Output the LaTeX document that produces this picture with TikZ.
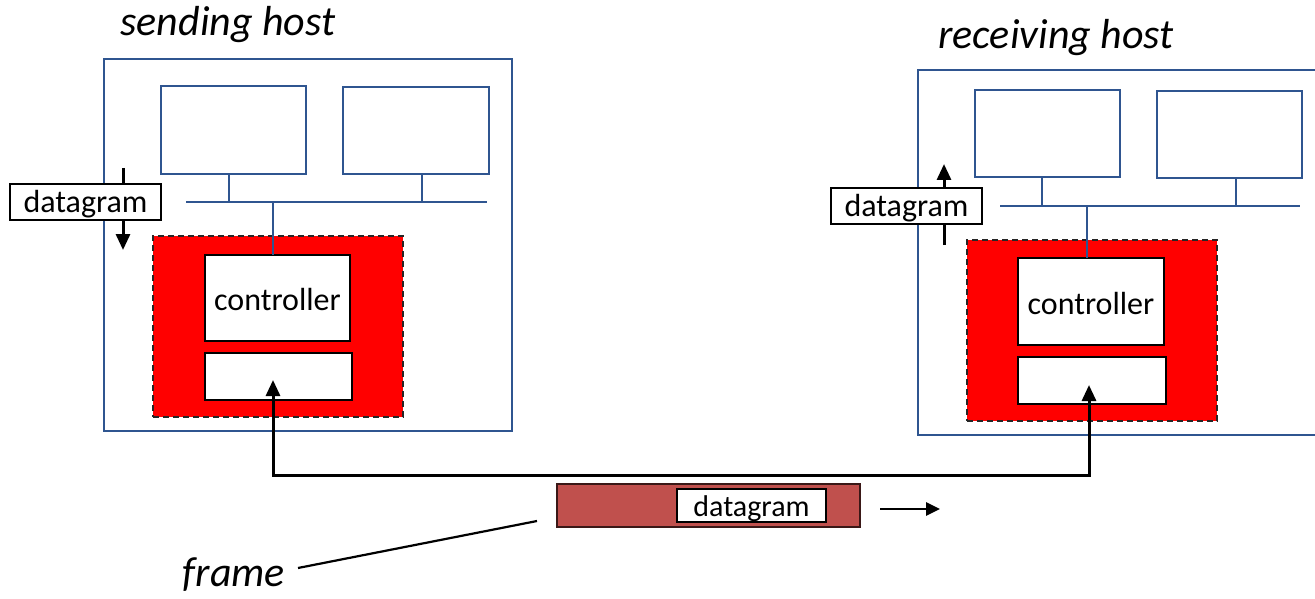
\documentclass[tikz,border=0pt]{standalone}
\usepackage{fontspec}
\setmainfont{Carlito}
\usetikzlibrary{arrows.meta}
\definecolor{hostblue}{HTML}{2F5590}
\definecolor{nicred}{HTML}{FF0000}
\definecolor{framered}{HTML}{C0504D}
\begin{document}
\begin{tikzpicture}[x=1pt,y=-1pt,
  every node/.style={inner sep=0pt,outer sep=0pt,anchor=north west},
  host/.style={draw=hostblue,line width=2pt},
  app/.style={draw=hostblue,line width=2pt},
  bus/.style={draw=hostblue,line width=2pt},
  nic/.style={draw=black!85,line width=2pt,dash pattern=on 6pt off 4pt,fill=nicred},
  part/.style={draw=black,line width=2.6pt,fill=white},
  dgram/.style={draw=black,line width=2.4pt,fill=white},
  txt/.style={anchor=center,font=\fontsize{32}{38}\selectfont},
  title/.style={font=\fontsize{42}{50}\selectfont\itshape,anchor=center},
  flow/.style={draw=black,line width=3pt,-{Triangle[width=14pt,length=16pt]}},
  link/.style={draw=black,line width=3pt,{Triangle[width=14pt,length=16pt]}-{Triangle[width=14pt,length=16pt]}}
]
\useasboundingbox (0,0) rectangle (1315,599);

% ---- sending host ----
\node[title] (sendlbl) at (228,25) {sending host};
\node[host,minimum width=408pt,minimum height=372pt] (hostL) at (104,59) {};
\node[app,minimum width=145pt,minimum height=88pt] (appL1) at (161,86) {};
\node[app,minimum width=146pt,minimum height=87pt] (appL2) at (343,87) {};
\coordinate (busLa) at (186,202);
\coordinate (busLb) at (487,202);
\draw[bus] (busLa) -- (busLb);
\draw[bus] (229,174) -- (229,202);
\draw[bus] (422,174) -- (422,202);
\node[nic,minimum width=250pt,minimum height=181pt] (nicL) at (153,236) {};
\node[part,minimum width=145pt,minimum height=86pt] (ctrlL) at (205,255) {};
\node[txt] at ([yshift=-2pt]ctrlL.center) {controller};
\node[part,minimum width=147pt,minimum height=47pt] (lowL) at (205,353) {};
\coordinate (busLc) at (273,202);
\draw[bus] (busLc) -- (busLc |- ctrlL.north);
\coordinate (downA) at (123,168);
\coordinate (downB) at (123,250);
\draw[flow] (downA) -- (downB);
\node[dgram,minimum width=151pt,minimum height=36pt] (dgL) at (10,184) {};
\node[txt] at ([yshift=-2pt]dgL.center) {datagram};

% ---- receiving host ----
\node[title] (recvlbl) at (1056,38) {receiving host};
\node[host,minimum width=410pt,minimum height=365pt] (hostR) at (918,70) {};
\node[app,minimum width=145pt,minimum height=87pt] (appR1) at (975,90) {};
\node[app,minimum width=145pt,minimum height=87pt] (appR2) at (1157,91) {};
\coordinate (busRa) at (1000,206);
\coordinate (busRb) at (1300,206);
\draw[bus] (busRa) -- (busRb);
\draw[bus] (1042,177) -- (1042,206);
\draw[bus] (1236,178) -- (1236,206);
\node[nic,minimum width=250pt,minimum height=181pt] (nicR) at (967,240) {};
\node[part,minimum width=146pt,minimum height=87pt] (ctrlR) at (1018,258) {};
\node[txt] at ([yshift=-2pt]ctrlR.center) {controller};
\node[part,minimum width=148pt,minimum height=47pt] (lowR) at (1018,357) {};
\coordinate (busRc) at (1087,206);
\draw[bus] (busRc) -- (busRc |- ctrlR.north);
\coordinate (upA) at (944,245);
\coordinate (upB) at (944,164);
\draw[flow] (upA) -- (upB);
\node[dgram,minimum width=151pt,minimum height=36pt] (dgR) at (831,188) {};
\node[txt] at ([yshift=-2pt]dgR.center) {datagram};

% ---- link between the two adapters ----
\coordinate (tipL) at (273,380);
\coordinate (tipR) at (1089,385);
\coordinate (wire) at (680,475);
\draw[link] (tipL) |- (wire) -| (tipR);

% ---- frame on the link ----
\node[draw=black!70!framered,line width=1.8pt,fill=framered,minimum width=303pt,minimum height=43pt] (frm) at (557,484) {};
\node[dgram,minimum width=149pt,minimum height=33pt] (frmdg) at (677,489) {};
\node[txt,font=\fontsize{30}{36}\selectfont] at ([yshift=-3pt]frmdg.center) {datagram};
\coordinate (goA) at (880,509);
\coordinate (goB) at (940,509);
\draw[draw=black,line width=2.8pt,-{Triangle[width=13pt,length=14pt]}] (goA) -- (goB);

% ---- frame label ----
\node[title] (frmlbl) at (234,575) {frame};
\coordinate (ptrA) at (298,568);
\coordinate (ptrB) at (537,521);
\draw[black,line width=2.2pt] (ptrA) -- (ptrB);
\end{tikzpicture}
\end{document}
